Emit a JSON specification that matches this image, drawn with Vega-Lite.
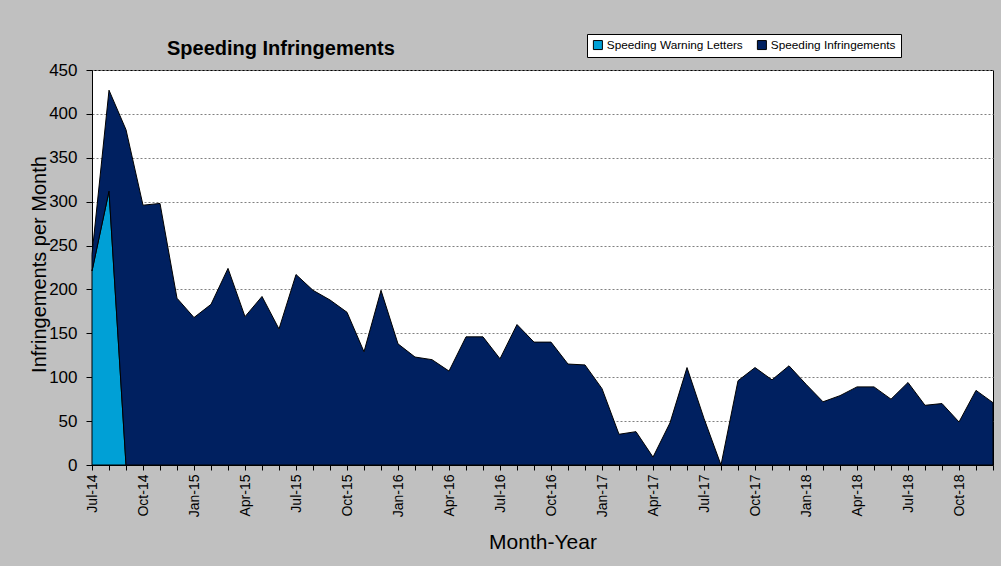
{
  "$schema": "https://vega.github.io/schema/vega-lite/v6.json",
  "width": 901,
  "height": 395,
  "autosize": {"type": "none"},
  "padding": {"left": 92, "top": 70, "right": 8, "bottom": 101},
  "background": "#C0C0C0",
  "title": {
    "text": "Speeding Infringements",
    "anchor": "start",
    "frame": "group",
    "dx": 75,
    "dy": 35,
    "offset": 10,
    "fontSize": 20,
    "fontWeight": "bold",
    "font": "Liberation Sans",
    "color": "black"
  },
  "data": {
    "values": [
      {"month": "Jul-14", "series": "Speeding Warning Letters", "count": 221, "k": 1},
      {"month": "Aug-14", "series": "Speeding Warning Letters", "count": 312, "k": 1},
      {"month": "Sep-14", "series": "Speeding Warning Letters", "count": 0, "k": 1},
      {"month": "Jul-14", "series": "Speeding Infringements", "count": 19, "k": 2},
      {"month": "Aug-14", "series": "Speeding Infringements", "count": 115, "k": 2},
      {"month": "Sep-14", "series": "Speeding Infringements", "count": 382, "k": 2},
      {"month": "Oct-14", "series": "Speeding Infringements", "count": 296, "k": 2},
      {"month": "Nov-14", "series": "Speeding Infringements", "count": 298, "k": 2},
      {"month": "Dec-14", "series": "Speeding Infringements", "count": 190, "k": 2},
      {"month": "Jan-15", "series": "Speeding Infringements", "count": 168, "k": 2},
      {"month": "Feb-15", "series": "Speeding Infringements", "count": 183, "k": 2},
      {"month": "Mar-15", "series": "Speeding Infringements", "count": 224, "k": 2},
      {"month": "Apr-15", "series": "Speeding Infringements", "count": 169, "k": 2},
      {"month": "May-15", "series": "Speeding Infringements", "count": 192, "k": 2},
      {"month": "Jun-15", "series": "Speeding Infringements", "count": 155, "k": 2},
      {"month": "Jul-15", "series": "Speeding Infringements", "count": 217, "k": 2},
      {"month": "Aug-15", "series": "Speeding Infringements", "count": 199, "k": 2},
      {"month": "Sep-15", "series": "Speeding Infringements", "count": 188, "k": 2},
      {"month": "Oct-15", "series": "Speeding Infringements", "count": 174, "k": 2},
      {"month": "Nov-15", "series": "Speeding Infringements", "count": 129, "k": 2},
      {"month": "Dec-15", "series": "Speeding Infringements", "count": 199, "k": 2},
      {"month": "Jan-16", "series": "Speeding Infringements", "count": 138, "k": 2},
      {"month": "Feb-16", "series": "Speeding Infringements", "count": 123, "k": 2},
      {"month": "Mar-16", "series": "Speeding Infringements", "count": 120, "k": 2},
      {"month": "Apr-16", "series": "Speeding Infringements", "count": 107, "k": 2},
      {"month": "May-16", "series": "Speeding Infringements", "count": 146, "k": 2},
      {"month": "Jun-16", "series": "Speeding Infringements", "count": 146, "k": 2},
      {"month": "Jul-16", "series": "Speeding Infringements", "count": 121, "k": 2},
      {"month": "Aug-16", "series": "Speeding Infringements", "count": 160, "k": 2},
      {"month": "Sep-16", "series": "Speeding Infringements", "count": 140, "k": 2},
      {"month": "Oct-16", "series": "Speeding Infringements", "count": 140, "k": 2},
      {"month": "Nov-16", "series": "Speeding Infringements", "count": 115, "k": 2},
      {"month": "Dec-16", "series": "Speeding Infringements", "count": 114, "k": 2},
      {"month": "Jan-17", "series": "Speeding Infringements", "count": 87, "k": 2},
      {"month": "Feb-17", "series": "Speeding Infringements", "count": 35, "k": 2},
      {"month": "Mar-17", "series": "Speeding Infringements", "count": 38, "k": 2},
      {"month": "Apr-17", "series": "Speeding Infringements", "count": 9, "k": 2},
      {"month": "May-17", "series": "Speeding Infringements", "count": 48, "k": 2},
      {"month": "Jun-17", "series": "Speeding Infringements", "count": 111, "k": 2},
      {"month": "Jul-17", "series": "Speeding Infringements", "count": 53, "k": 2},
      {"month": "Aug-17", "series": "Speeding Infringements", "count": 0, "k": 2},
      {"month": "Sep-17", "series": "Speeding Infringements", "count": 96, "k": 2},
      {"month": "Oct-17", "series": "Speeding Infringements", "count": 111, "k": 2},
      {"month": "Nov-17", "series": "Speeding Infringements", "count": 97, "k": 2},
      {"month": "Dec-17", "series": "Speeding Infringements", "count": 113, "k": 2},
      {"month": "Jan-18", "series": "Speeding Infringements", "count": 92, "k": 2},
      {"month": "Feb-18", "series": "Speeding Infringements", "count": 72, "k": 2},
      {"month": "Mar-18", "series": "Speeding Infringements", "count": 79, "k": 2},
      {"month": "Apr-18", "series": "Speeding Infringements", "count": 89, "k": 2},
      {"month": "May-18", "series": "Speeding Infringements", "count": 89, "k": 2},
      {"month": "Jun-18", "series": "Speeding Infringements", "count": 75, "k": 2},
      {"month": "Jul-18", "series": "Speeding Infringements", "count": 94, "k": 2},
      {"month": "Aug-18", "series": "Speeding Infringements", "count": 68, "k": 2},
      {"month": "Sep-18", "series": "Speeding Infringements", "count": 70, "k": 2},
      {"month": "Oct-18", "series": "Speeding Infringements", "count": 49, "k": 2},
      {"month": "Nov-18", "series": "Speeding Infringements", "count": 85, "k": 2},
      {"month": "Dec-18", "series": "Speeding Infringements", "count": 71, "k": 2}
    ]
  },
  "mark": {"type": "area", "stroke": "black", "strokeWidth": 1, "opacity": 1, "strokeJoin": "miter"},
  "encoding": {
    "x": {
      "field": "month",
      "type": "ordinal",
      "sort": null,
      "scale": {"type": "point", "padding": 0},
      "axis": {
        "title": "Month-Year",
        "titleFontSize": 21,
        "titleFontWeight": "normal",
        "titleY": 83,
        "titleBaseline": "alphabetic",
        "labelAngle": -90,
        "labelFontSize": 14,
        "labelPadding": 4,
        "labelOverlap": false,
        "labelExpr": "indexof(['Jul','Oct','Jan','Apr'], slice(datum.label, 0, 3)) >= 0 ? datum.label : ''",
        "tickSize": 5,
        "grid": false
      }
    },
    "y": {
      "field": "count",
      "type": "quantitative",
      "stack": "zero",
      "scale": {"domain": [0, 450], "nice": false},
      "axis": {
        "title": "Infringements per Month",
        "titleFontSize": 20,
        "titleFontWeight": "normal",
        "titleX": -47,
        "titleY": 194,
        "titleAlign": "center",
        "titleBaseline": "alphabetic",
        "values": [0, 50, 100, 150, 200, 250, 300, 350, 400, 450],
        "labelFontSize": 17,
        "labelPadding": 9,
        "tickSize": 6,
        "grid": true,
        "gridColor": "#808080",
        "gridDash": [2, 2],
        "gridWidth": 1
      }
    },
    "color": {
      "field": "series",
      "type": "nominal",
      "scale": {
        "domain": ["Speeding Warning Letters", "Speeding Infringements"],
        "range": ["#00A0D6", "#002060"]
      },
      "legend": {
        "title": null,
        "orient": "none",
        "direction": "horizontal",
        "legendX": 495,
        "legendY": -36,
        "fillColor": "white",
        "strokeColor": "black",
        "padding": 5,
        "symbolType": "square",
        "symbolSize": 81,
        "symbolStrokeColor": "black",
        "symbolStrokeWidth": 1,
        "symbolOpacity": 1,
        "labelFontSize": 11.8,
        "labelOffset": 3,
        "columnPadding": 12,
        "labelColor": "black"
      }
    },
    "order": {"field": "k", "type": "quantitative"}
  },
  "config": {
    "font": "Liberation Sans",
    "view": {"stroke": "black", "strokeWidth": 1, "fill": "white"},
    "axis": {
      "domainColor": "black",
      "tickColor": "black",
      "labelColor": "black",
      "titleColor": "black",
      "labelFont": "Liberation Sans",
      "titleFont": "Liberation Sans"
    },
    "legend": {"labelFont": "Liberation Sans"}
  }
}
